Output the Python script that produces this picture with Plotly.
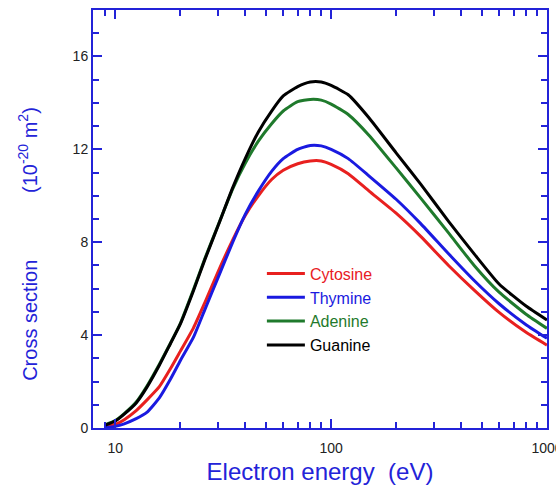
import plotly.graph_objects as go

energy = [9, 10, 11, 12.5, 14, 16, 18, 20, 23, 26, 30, 35, 40, 46, 53, 60, 70, 80, 90,
          100, 120, 150, 200, 260, 350, 460, 600, 800, 1000]

cytosine = [0.05, 0.15, 0.36, 0.75, 1.2, 1.78, 2.55, 3.3, 4.3, 5.4, 6.75, 8.1, 9.15, 10.0,
            10.7, 11.1, 11.38, 11.5, 11.5, 11.35, 10.95, 10.2, 9.25, 8.25, 7.0, 5.94,
            4.98, 4.12, 3.57]
thymine = [0.02, 0.07, 0.18, 0.4, 0.67, 1.3, 2.1, 2.9, 3.9, 5.1, 6.5, 8.0, 9.2, 10.2,
           11.05, 11.6, 12.0, 12.17, 12.15, 12.0, 11.6, 10.85, 9.85, 8.8, 7.5, 6.35,
           5.35, 4.45, 3.86]
adenine = [0.14, 0.32, 0.62, 1.12, 1.8, 2.75, 3.65, 4.5, 5.95, 7.3, 8.75, 10.3, 11.4,
           12.35, 13.1, 13.65, 14.05, 14.15, 14.12, 13.95, 13.5, 12.6, 11.2, 9.9,
           8.4, 7.0, 5.85, 4.9, 4.29]
guanine = [0.12, 0.3, 0.6, 1.08, 1.75, 2.7, 3.63, 4.47, 5.9, 7.25, 8.73, 10.35, 11.6,
           12.75, 13.65, 14.3, 14.7, 14.9, 14.9, 14.75, 14.35, 13.35, 11.85, 10.5, 8.9,
           7.5, 6.2, 5.25, 4.65]

series = [
    ("Cytosine", cytosine, "#e8201f"),
    ("Thymine", thymine, "#1a1ae0"),
    ("Adenine", adenine, "#1f7a2c"),
    ("Guanine", guanine, "#000000"),
]

x_major = [10, 100, 1000]
x_major_text = ["10", "100", "1000"]
x_minor = [9, 20, 30, 40, 50, 60, 70, 80, 90, 200, 300, 400, 500, 600, 700, 800, 900]
y_major = [0, 4, 8, 12, 16]

AX = "#2323d8"
FONT = "Liberation Sans, Arial, Helvetica, sans-serif"

fig = go.Figure()
for name, vals, col in series:
    fig.add_trace(go.Scatter(
        x=energy, y=vals, mode="lines",
        line=dict(color=col, width=3, shape="spline", smoothing=0.5),
        name=f'<span style="color:{col}">{name}</span>'))

fig.update_layout(
    width=556, height=488,
    margin=dict(l=93, r=9, t=10, b=60),
    paper_bgcolor="white", plot_bgcolor="white",
    font=dict(family=FONT, color="#222222", size=14),
    showlegend=True,
    legend=dict(x=0.372, xanchor="left", y=0.41, yanchor="top",
                bgcolor="rgba(0,0,0,0)", font=dict(size=16, family=FONT),
                itemwidth=38, tracegroupgap=0),
)

fig.update_xaxes(
    type="log", range=[0.8967, 3.0002],
    tickvals=x_major, ticktext=x_major_text,
    ticks="inside", ticklen=9, tickwidth=1.5, tickcolor=AX,
    showline=True, linecolor=AX, linewidth=2, mirror="allticks",
    showgrid=False, zeroline=False, automargin=False,
    tickfont=dict(size=14, color="#222222"), ticklabelstandoff=6,
    ticklabeloverflow="allow",
    minor=dict(tickvals=x_minor, ticks="inside", ticklen=6, tickwidth=1.5, tickcolor=AX, showgrid=False),
    title=dict(text="Electron energy\u00a0\u00a0(eV)", font=dict(size=24, color=AX, family=FONT), standoff=8),
)

fig.update_yaxes(
    range=[0, 18],
    tickvals=y_major,
    ticks="inside", ticklen=9, tickwidth=1.5, tickcolor=AX,
    showline=True, linecolor=AX, linewidth=2, mirror="allticks",
    showgrid=False, zeroline=False, automargin=False,
    tickfont=dict(size=14, color="#222222"),
    minor=dict(dtick=1, ticks="inside", ticklen=6, tickwidth=1.5, tickcolor=AX, showgrid=False),
    title=dict(text="Cross section" + "\u00a0" * 12 + "(10<sup>-20</sup> m<sup>2</sup>)"
               + "\u00a0" * 9 + "\u200b",
               font=dict(size=20, color=AX, family=FONT), standoff=30),
)

fig.write_html("out.html")
